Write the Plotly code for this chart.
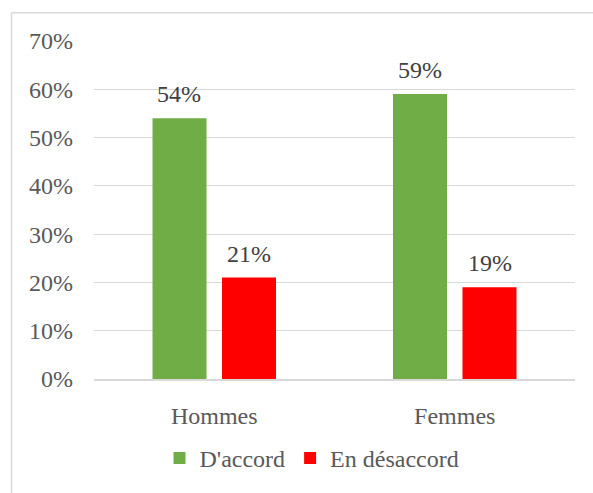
import plotly.graph_objects as go

categories = ["Hommes", "Femmes"]
accord = [0.54, 0.59]
desaccord = [0.21, 0.19]
series_names = ["D'accord", "En désaccord"]
colors = ["#70AD47", "#FF0000"]

FONT = "Liberation Serif"
W, H = 593, 493
ML, MR, MT, MB = 94, 18, 41, 111
plot_w = W - ML - MR
plot_h = H - MT - MB

BARGAP = 0.422
BARGROUPGAP = 0.223

fig = go.Figure()
for name, vals, col in zip(series_names, [accord, desaccord], colors):
    fig.add_trace(go.Bar(
        x=categories, y=vals, name=name,
        marker=dict(color=col, line=dict(width=0)),
    ))

# value labels above each bar, offset to the bar's slot within its group
slot_px = plot_w / len(categories) * (1 - BARGAP) / 2
for k, vals in enumerate([accord, desaccord]):
    shift = (k - 0.5) * slot_px
    for cat, v in zip(categories, vals):
        fig.add_annotation(
            x=cat, y=v, text=f"{round(v*100)}%", showarrow=False,
            xshift=shift, yshift=24, yanchor="middle",
            font=dict(family=FONT, size=24, color="#404040"),
        )

# chart frame (light border of the chart area)
px_x = lambda p: (p - ML) / plot_w
px_y = lambda p: (H - MB - p) / plot_h
frame = dict(color="#D9D9D9", width=1.5)
fig.add_shape(type="line", xref="paper", yref="paper",
              x0=px_x(11.5), x1=px_x(620), y0=px_y(12.5), y1=px_y(12.5), line=frame)
fig.add_shape(type="line", xref="paper", yref="paper",
              x0=px_x(11.5), x1=px_x(11.5), y0=px_y(12.5), y1=px_y(520), line=frame)

fig.update_layout(
    width=W, height=H,
    margin=dict(l=ML, r=MR, t=MT, b=MB),
    paper_bgcolor="white", plot_bgcolor="white",
    barmode="group", bargap=BARGAP, bargroupgap=BARGROUPGAP,
    font=dict(family=FONT, size=24, color="#595959"),
    showlegend=True,
    legend=dict(
        orientation="h", xref="paper", yref="paper",
        x=px_x(312), y=px_y(462), xanchor="center", yanchor="middle",
        font=dict(family=FONT, size=24, color="#595959"),
        itemwidth=30, traceorder="normal",
    ),
    xaxis=dict(
        showgrid=False, showline=True, linecolor="#D9D9D9", linewidth=1.5,
        ticks="", ticklabelstandoff=14,
        tickfont=dict(family=FONT, size=24, color="#595959"),
    ),
    yaxis=dict(
        range=[0, 0.7], dtick=0.1, tickformat=".0%",
        showgrid=True, gridcolor="#D9D9D9", gridwidth=1.3,
        zeroline=False, showline=False, ticks="", ticklabelstandoff=20,
        tickfont=dict(family=FONT, size=24, color="#595959"),
    ),
)

fig.write_html("out.html")
